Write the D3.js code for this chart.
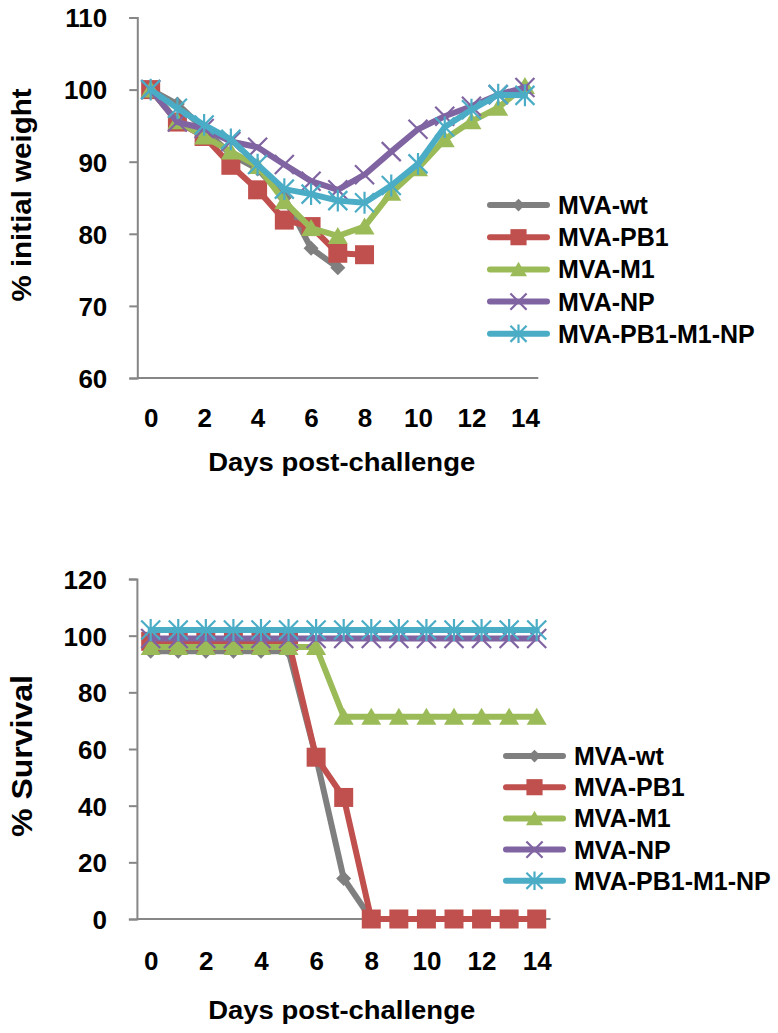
<!DOCTYPE html>
<html>
<head>
<meta charset="utf-8">
<script src="https://cdn.jsdelivr.net/npm/d3@7"></script>
<style>
  html, body { margin: 0; padding: 0; background: #ffffff; }
  svg { display: block; }
  text { font-family: "Liberation Sans", Arial, sans-serif; font-weight: bold; fill: #000; }
</style>
</head>
<body>
<svg id="chart" width="778" height="1033"></svg>
<script>
// ---------------- DATA ----------------
const days = [0, 1, 2, 3, 4, 5, 6, 7, 8, 9, 10, 11, 12, 13, 14];
const dayTickLabels = [0, 2, 4, 6, 8, 10, 12, 14];
const seriesNames = ["MVA-wt", "MVA-PB1", "MVA-M1", "MVA-NP", "MVA-PB1-M1-NP"];

// % initial weight (values per day, series stop when animals died)
const weightWt    = [100, 98.0, 94.5, 91.0, 89.0, 85.0, 78.0, 75.3];
const weightPB1   = [100, 95.5, 93.5, 89.5, 86.1, 81.9, 81.0, 77.3, 77.1];
const weightM1    = [100, 95.6, 93.5, 91.4, 89.4, 84.5, 80.8, 79.7, 81.0, 85.7, 89.1, 93.1, 95.6, 97.5, 100.5];
const weightNP    = [100, 95.5, 94.6, 92.8, 92.0, 89.6, 87.3, 86.1, 88.2, 91.4, 94.5, 96.3, 97.7, 99.3, 100.3];
const weightCombo = [100, 97.4, 95.1, 93.1, 89.6, 86.2, 85.5, 84.6, 84.3, 86.7, 89.7, 94.8, 97.2, 99.3, 99.2];
const weightTicks = [60, 70, 80, 90, 100, 110];

// % survival (curves drawn slightly offset in the original so they stay visible)
const survWt    = [94.5, 94.5, 94.5, 94.5, 94.5, 94.5, 57.1, 14.3, 0];
const survPB1   = [98, 98, 98, 98, 98, 98, 57.1, 42.9, 0, 0, 0, 0, 0, 0, 0];
const survM1    = [96, 96, 96, 96, 96, 96, 96, 71.4, 71.4, 71.4, 71.4, 71.4, 71.4, 71.4, 71.4];
const survNP    = [99, 99, 99, 99, 99, 99, 99, 99, 99, 99, 99, 99, 99, 99, 99];
const survCombo = [102, 102, 102, 102, 102, 102, 102, 102, 102, 102, 102, 102, 102, 102, 102];
const survTicks = [0, 20, 40, 60, 80, 100, 120];

// ---------------- STYLE ----------------
const colors = ["#7F7F7F", "#C0504D", "#9BBB59", "#8064A2", "#4BACC6"];
const markers = ["diamond", "square", "triangle", "x", "star"];
const axisColor = "#868686";

const svg = d3.select("#chart");

function markerPath(type, s) {
  switch (type) {
    case "diamond": return `M0,${-s}L${s},0L0,${s}L${-s},0Z`;
    case "square": return `M${-s},${-s}H${s}V${s}H${-s}Z`;
    case "triangle": return `M0,${-s * 0.9}L${s},${s * 0.8}L${-s},${s * 0.8}Z`;
    case "x": return `M${-s},${-s}L${s},${s}M${-s},${s}L${s},${-s}`;
    case "star": return `M${-s},${-s}L${s},${s}M${-s},${s}L${s},${-s}M0,${-s * 1.15}V${s * 1.15}`;
  }
}
const markerSize = { diamond: 7.5, square: 9.5, triangle: 10, x: 9.5, star: 9.5 };

function drawMarker(g, type, color, x, y, scale = 1) {
  const s = markerSize[type] * scale;
  const filled = type === "diamond" || type === "square" || type === "triangle";
  g.append("path")
    .attr("transform", `translate(${x},${y})`)
    .attr("d", markerPath(type, s))
    .attr("fill", filled ? color : "none")
    .attr("stroke", color)
    .attr("stroke-width", filled ? 0 : 2.2);
}

function drawPanel(cfg) {
  const x = d3.scalePoint().domain(days).range([cfg.x0, cfg.x1]).padding(0.5);
  const y = d3.scaleLinear().domain(cfg.yDomain).range([cfg.yBottom, cfg.yTop]);
  const g = svg.append("g");

  // Y axis
  const yAxis = d3.axisLeft(y).tickValues(cfg.yTicks).tickSize(8).tickPadding(22).tickFormat(d3.format("d"));
  const ya = g.append("g").attr("transform", `translate(${cfg.x0},0)`).call(yAxis);
  ya.select(".domain").attr("stroke", axisColor).attr("stroke-width", 2);
  ya.selectAll(".tick line").attr("stroke", axisColor).attr("stroke-width", 2);
  ya.selectAll(".tick text").attr("font-size", 26).attr("dy", "0.36em")
    .style("font-family", "'Liberation Sans', Arial, sans-serif").style("font-weight", "bold").attr("fill", "#000");

  // X axis (category axis, no tick marks)
  const xAxis = d3.axisBottom(x).tickValues(dayTickLabels).tickSize(0).tickFormat(d3.format("d"));
  const xa = g.append("g").attr("transform", `translate(0,${cfg.yBottom})`).call(xAxis);
  xa.select(".domain").attr("d", `M${cfg.x0},0H${cfg.x1}`).attr("stroke", axisColor).attr("stroke-width", 2);
  xa.selectAll(".tick text").attr("font-size", 26).attr("y", cfg.xLabelOffset).attr("dy", 0)
    .style("font-family", "'Liberation Sans', Arial, sans-serif").style("font-weight", "bold").attr("fill", "#000");

  // Axis titles
  g.append("text")
    .attr("x", cfg.xTitleX).attr("y", cfg.xTitleY)
    .attr("text-anchor", "middle").attr("font-size", 26)
    .attr("textLength", 267).attr("lengthAdjust", "spacingAndGlyphs")
    .text("Days post-challenge");
  g.append("text")
    .attr("transform", `translate(${cfg.yTitleX},${cfg.yTitleY}) rotate(-90)`)
    .attr("text-anchor", "middle").attr("font-size", cfg.yTitleSize)
    .attr("textLength", cfg.yTitleLen).attr("lengthAdjust", "spacingAndGlyphs")
    .text(cfg.yTitle);

  // Series
  const line = d3.line().x((d, i) => x(days[i])).y(d => y(d));
  cfg.series.forEach((vals, si) => {
    const sg = g.append("g");
    sg.append("path").datum(vals).attr("d", line)
      .attr("fill", "none").attr("stroke", colors[si]).attr("stroke-width", 6)
      .attr("stroke-linejoin", "round").attr("stroke-linecap", "round");
    vals.forEach((v, i) => drawMarker(sg, markers[si], colors[si], x(days[i]), y(v)));
  });

  // Legend
  const lg = g.append("g");
  seriesNames.forEach((name, si) => {
    const ly = cfg.legendY + si * cfg.legendStep;
    lg.append("line")
      .attr("x1", cfg.legendX).attr("x2", cfg.legendX + 57).attr("y1", ly).attr("y2", ly)
      .attr("stroke", colors[si]).attr("stroke-width", 6).attr("stroke-linecap", "round");
    drawMarker(lg, markers[si], colors[si], cfg.legendX + 28.5, ly, 0.85);
    lg.append("text")
      .attr("x", cfg.legendX + 68).attr("y", ly).attr("dy", "0.36em")
      .attr("font-size", 25)
      .text(name);
  });
}

drawPanel({
  x0: 137.3, x1: 538.3, yTop: 17.5, yBottom: 378, yDomain: [60, 110], yTicks: weightTicks,
  xLabelOffset: 49, xTitleX: 341.7, xTitleY: 471,
  yTitle: "% initial weight", yTitleX: 31, yTitleY: 195, yTitleSize: 27, yTitleLen: 213,
  series: [weightWt, weightPB1, weightM1, weightNP, weightCombo],
  legendX: 490, legendY: 205, legendStep: 32.2
});

drawPanel({
  x0: 136.9, x1: 550.5, yTop: 579, yBottom: 919, yDomain: [0, 120], yTicks: survTicks,
  xLabelOffset: 50.5, xTitleX: 341.7, xTitleY: 1019,
  yTitle: "% Survival", yTitleX: 32, yTitleY: 756, yTitleSize: 29, yTitleLen: 162,
  series: [survWt, survPB1, survM1, survNP, survCombo],
  legendX: 506, legendY: 756, legendStep: 31.2
});
</script>
</body>
</html>
